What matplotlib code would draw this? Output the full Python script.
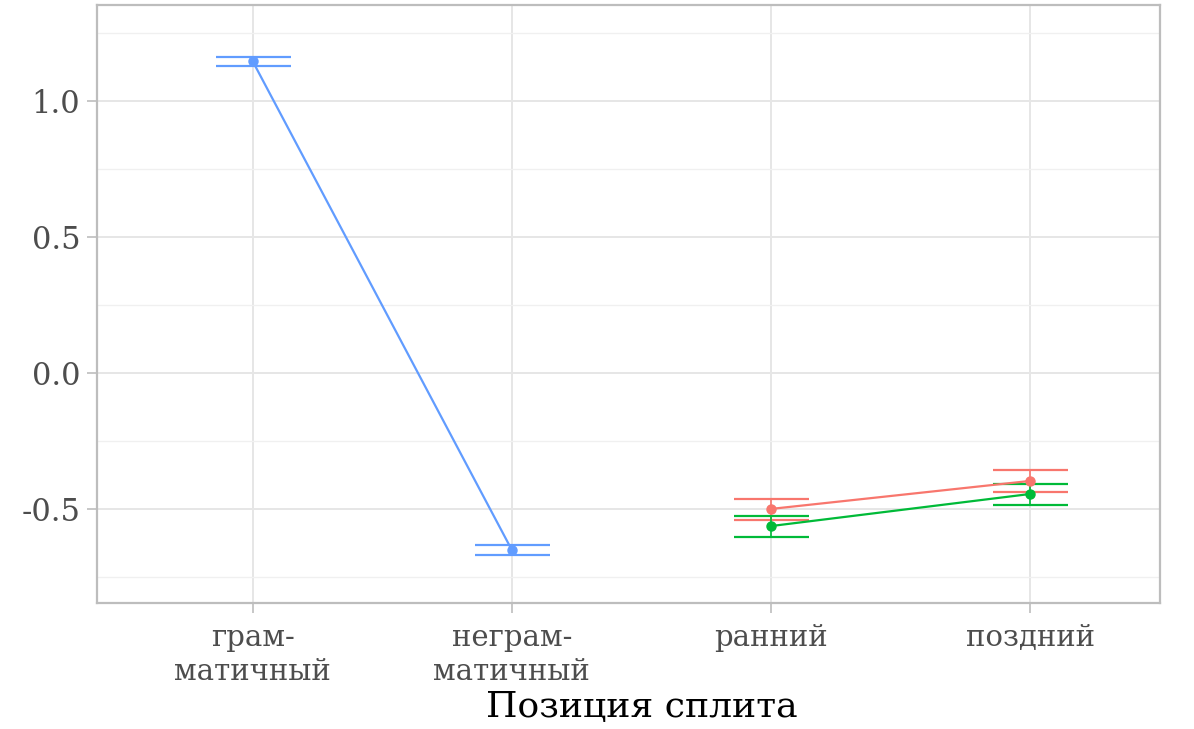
import numpy as np
import matplotlib
matplotlib.use('Agg')
import matplotlib.pyplot as plt
from matplotlib.ticker import MultipleLocator

# split positions on the x axis
categories = ['грам-\nматичный', 'неграм-\nматичный', 'ранний', 'поздний']

# grammaticality condition (blue)
gram_x = [1, 2]
gram_mean = [1.147, -0.651]
gram_lo = [1.129, -0.669]
gram_hi = [1.162, -0.632]

# early / late split, two groups
red_x = [3, 4]
red_mean = [-0.500, -0.397]
red_lo = [-0.540, -0.437]
red_hi = [-0.463, -0.357]

green_x = [3, 4]
green_mean = [-0.563, -0.445]
green_lo = [-0.603, -0.485]
green_hi = [-0.526, -0.408]

serif = ['DejaVu Serif', 'Liberation Serif']

fig = plt.figure(figsize=(11.94, 7.29), dpi=100)
ax = fig.add_axes([97 / 1194, 1 - 603 / 729, (1160 - 97) / 1194, (603 - 5) / 729])

def draw_series(x, mean, lo, hi, color):
  mean = np.array(mean)
  err = [mean - np.array(lo), np.array(hi) - mean]
  ax.errorbar(x, mean, yerr=err, color=color, lw=1.6, capsize=27,
              capthick=1.6, elinewidth=1.2, marker='o', ms=6.5, zorder=3)

draw_series(gram_x, gram_mean, gram_lo, gram_hi, '#619CFF')
draw_series(red_x, red_mean, red_lo, red_hi, '#F8766D')
draw_series(green_x, green_mean, green_lo, green_hi, '#00BA38')

ax.set_xlim(0.4, 4.5)
ax.set_ylim(-0.846, 1.353)
ax.set_xticks(range(1, len(categories) + 1))
ax.set_xticklabels(categories, family=serif, fontsize=21, color='#4d4d4d',
                   linespacing=1.3)
ax.yaxis.set_major_locator(MultipleLocator(0.5))
ax.yaxis.set_minor_locator(MultipleLocator(0.25))
ax.set_yticks([-0.5, 0.0, 0.5, 1.0])
ax.set_yticklabels(['-0.5', '0.0', '0.5', '1.0'], family=serif, fontsize=22,
                   color='#4d4d4d')

ax.grid(True, which='major', color='#e6e6e6', lw=1.4)
ax.grid(True, which='minor', axis='y', color='#f0f0f0', lw=1.0)
ax.set_axisbelow(True)
ax.tick_params(axis='both', which='major', length=7, width=1.2, color='#bdbdbd')
ax.tick_params(axis='both', which='minor', length=0)
ax.tick_params(axis='x', pad=8)
ax.tick_params(axis='y', pad=5)
for s in ax.spines.values():
  s.set_color('#bdbdbd')
  s.set_linewidth(1.6)

fig.text(642 / 1194, 1 - 707 / 729, 'Позиция сплита', family=serif,
         fontsize=26, ha='center', va='center', color='black')

fig.savefig('out.png', dpi=100, facecolor='white')
